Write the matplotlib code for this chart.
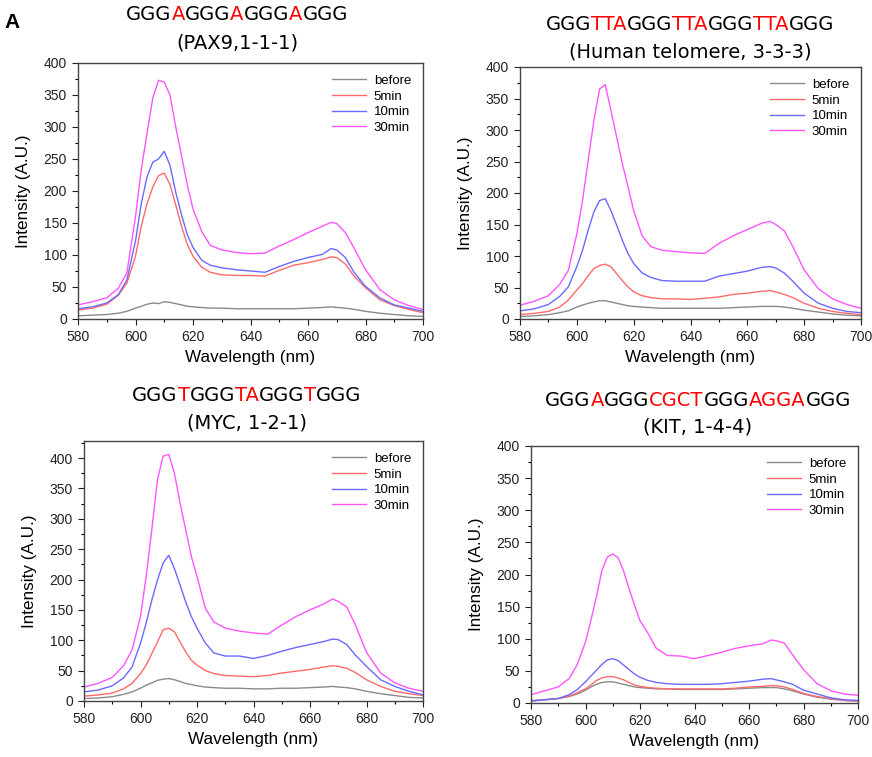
import numpy as np
import matplotlib
matplotlib.use('Agg')
import matplotlib.pyplot as plt
from matplotlib.ticker import MultipleLocator
from matplotlib.offsetbox import TextArea, HPacker, AnnotationBbox

# wavelength grid (nm) at which values were read
wl = [580, 585, 590, 594, 597, 600, 602, 604, 606, 608, 610, 612, 614, 616, 618, 620, 623, 626,
      630, 635, 640, 645, 650, 655, 660, 665, 668, 670, 673, 676, 680, 685, 690, 695, 700]

series_names = ['before', '5min', '10min', '30min']

# PAX9, 1-1-1
pax9_before = [5, 6, 7, 9, 12, 17, 20, 23, 25, 24, 27, 26, 24, 22, 20, 19, 18, 17,
               17, 16, 16, 16, 16, 16, 17, 18, 19, 18, 17, 15, 12, 9, 7, 5, 4]
pax9_5 = [14, 17, 23, 37, 56, 98, 145, 180, 206, 224, 228, 210, 178, 145, 117, 98, 81, 73,
          69, 68, 68, 67, 76, 84, 88, 93, 97, 96, 86, 67, 49, 30, 21, 15, 10]
pax9_10 = [16, 19, 25, 38, 61, 122, 180, 222, 245, 250, 262, 240, 198, 163, 132, 112, 92, 84,
           80, 77, 75, 73, 82, 90, 96, 101, 110, 108, 96, 73, 51, 33, 22, 17, 12]
pax9_30 = [22, 27, 33, 48, 72, 160, 233, 290, 345, 373, 370, 350, 300, 255, 210, 172, 137, 115,
           108, 104, 102, 103, 114, 124, 135, 145, 151, 149, 135, 111, 77, 46, 30, 21, 15]

# Human telomere, 3-3-3
tel_before = [4, 5, 7, 10, 13, 19, 22, 25, 27, 29, 29, 27, 25, 23, 21, 20, 19, 18,
              17, 17, 17, 17, 17, 18, 19, 20, 20, 20, 19, 17, 14, 11, 8, 6, 5]
tel_5 = [7, 9, 12, 19, 30, 46, 56, 69, 80, 85, 87, 83, 72, 61, 51, 43, 37, 34,
         32, 32, 31, 33, 35, 39, 41, 44, 45, 43, 39, 34, 25, 17, 12, 9, 7]
tel_10 = [13, 16, 23, 36, 51, 83, 109, 141, 170, 188, 191, 172, 149, 125, 104, 88, 73, 66,
          61, 60, 60, 60, 68, 72, 76, 82, 83, 81, 73, 60, 41, 25, 17, 12, 10]
tel_30 = [22, 28, 37, 55, 77, 135, 188, 252, 315, 365, 372, 331, 289, 247, 210, 172, 132, 115,
          109, 107, 105, 104, 120, 132, 142, 152, 155, 150, 140, 115, 78, 48, 32, 23, 17]

# MYC, 1-2-1
myc_before = [4, 5, 7, 11, 15, 21, 26, 30, 34, 36, 37, 35, 32, 29, 27, 25, 23, 22,
              21, 21, 20, 20, 21, 21, 22, 23, 24, 23, 22, 20, 16, 12, 9, 6, 5]
myc_5 = [8, 10, 13, 20, 29, 45, 59, 78, 97, 117, 120, 114, 97, 81, 67, 59, 50, 45,
         42, 41, 40, 42, 46, 49, 52, 56, 58, 57, 54, 47, 35, 24, 16, 12, 9]
myc_10 = [15, 18, 25, 38, 56, 95, 128, 166, 199, 227, 240, 218, 191, 163, 139, 120, 95, 79,
          74, 74, 70, 75, 82, 88, 93, 98, 102, 101, 93, 76, 57, 35, 24, 16, 10]
myc_30 = [23, 29, 39, 58, 84, 139, 205, 282, 364, 403, 406, 375, 326, 282, 238, 205, 152, 130,
          120, 115, 112, 110, 125, 139, 150, 160, 168, 164, 155, 126, 80, 46, 30, 21, 16]

# KIT, 1-4-4
kit_before = [4, 5, 7, 10, 14, 20, 25, 29, 32, 33, 33, 31, 29, 27, 25, 24, 23, 22,
              22, 21, 21, 21, 21, 22, 23, 24, 24, 24, 22, 19, 14, 9, 6, 4, 3]
kit_5 = [3, 5, 7, 11, 16, 22, 28, 35, 39, 41, 41, 39, 36, 32, 28, 26, 24, 23,
         22, 22, 22, 22, 22, 23, 25, 26, 27, 27, 25, 21, 15, 10, 7, 4, 3]
kit_10 = [3, 5, 7, 13, 21, 33, 42, 51, 60, 67, 69, 66, 59, 52, 45, 40, 35, 32,
          30, 29, 29, 29, 30, 32, 34, 37, 38, 36, 33, 29, 20, 14, 8, 5, 4]
kit_30 = [13, 19, 25, 38, 60, 95, 129, 165, 206, 227, 232, 226, 205, 178, 152, 128, 108, 85,
          74, 73, 69, 74, 79, 85, 89, 92, 98, 97, 93, 75, 52, 30, 19, 14, 12]

# titles: (text, colour) segments and subtitle
pax9_title = [('GGG', 'k'), ('A', 'r'), ('GGG', 'k'), ('A', 'r'), ('GGG', 'k'), ('A', 'r'), ('GGG', 'k')]
tel_title = [('GGG', 'k'), ('TTA', 'r'), ('GGG', 'k'), ('TTA', 'r'), ('GGG', 'k'), ('TTA', 'r'), ('GGG', 'k')]
myc_title = [('GGG', 'k'), ('T', 'r'), ('GGG', 'k'), ('TA', 'r'), ('GGG', 'k'), ('T', 'r'), ('GGG', 'k')]
kit_title = [('GGG', 'k'), ('A', 'r'), ('GGG', 'k'), ('CGCT', 'r'), ('GGG', 'k'), ('AGGA', 'r'), ('GGG', 'k')]
subtitles = ['(PAX9,1-1-1)', '(Human telomere, 3-3-3)', '(MYC, 1-2-1)', '(KIT, 1-4-4)']

colors = ['#8a8a8a', '#ff6a6a', '#6a6aff', '#ff55ff']

W, H = 872, 757
fig = plt.figure(figsize=(W / 100, H / 100), dpi=100)

def px_axes(l, t, r, b):
    return fig.add_axes([l / W, 1 - b / H, (r - l) / W, (b - t) / H])

def seg_title(segs, x, y, size=14):
    parts = [TextArea(s, textprops=dict(color='red' if c == 'r' else 'black', fontsize=size,
                                         family='DejaVu Sans')) for s, c in segs]
    box = HPacker(children=parts, align='baseline', pad=0, sep=0)
    ab = AnnotationBbox(box, (x / W, 1 - y / H), xycoords='figure fraction',
                        frameon=False, box_alignment=(0.5, 0.5))
    fig.add_artist(ab)

panels = [
    dict(box=(78, 63, 423, 319), ymax=400, data=[pax9_before, pax9_5, pax9_10, pax9_30],
         title=pax9_title, sub=subtitles[0], tx=237, ty=(15, 43)),
    dict(box=(520, 67, 861, 319), ymax=400, data=[tel_before, tel_5, tel_10, tel_30],
         title=tel_title, sub=subtitles[1], tx=690, ty=(25, 52)),
    dict(box=(84, 441, 423, 701), ymax=428, data=[myc_before, myc_5, myc_10, myc_30],
         title=myc_title, sub=subtitles[2], tx=247, ty=(395, 423)),
    dict(box=(531, 446, 858, 703), ymax=400, data=[kit_before, kit_5, kit_10, kit_30],
         title=kit_title, sub=subtitles[3], tx=698, ty=(401, 427)),
]

for p in panels:
    ax = px_axes(*p['box'])
    for name, y, c in zip(series_names, p['data'], colors):
        ax.plot(wl, y, color=c, lw=1.0, label=name)
    ax.set_xlim(580, 700)
    ax.set_ylim(0, p['ymax'])
    ax.xaxis.set_major_locator(MultipleLocator(20))
    ax.xaxis.set_minor_locator(MultipleLocator(10))
    ax.yaxis.set_major_locator(MultipleLocator(50))
    ax.yaxis.set_minor_locator(MultipleLocator(25))
    ax.tick_params(which='major', direction='out', length=4, width=0.8, pad=4,
                   labelsize=10, colors='#222222')
    ax.tick_params(which='minor', direction='out', length=2.5, width=0.8)
    for lab in ax.get_xticklabels() + ax.get_yticklabels():
        lab.set_family('Liberation Sans')
    for sp in ax.spines.values():
        sp.set_color('#444444')
        sp.set_linewidth(1.0)
    ax.set_xlabel('Wavelength (nm)', fontsize=12.3, family='Liberation Sans', labelpad=4)
    ax.set_ylabel('Intensity (A.U.)', fontsize=12.3, family='Liberation Sans', labelpad=9)
    ax.legend(loc='upper right', frameon=False, prop=dict(family='Liberation Sans', size=9.5),
              handlelength=2.6, labelspacing=0.25, borderaxespad=0.5, handletextpad=0.6)
    seg_title(p['title'], p['tx'], p['ty'][0])
    fig.text(p['tx'] / W, 1 - p['ty'][1] / H, p['sub'], ha='center', va='center',
             fontsize=14, family='DejaVu Sans')

fig.text(4 / W, 1 - 22 / H, 'A', fontsize=15, fontweight='bold', family='Liberation Sans',
         ha='left', va='center')

fig.savefig('out.png', dpi=100)
